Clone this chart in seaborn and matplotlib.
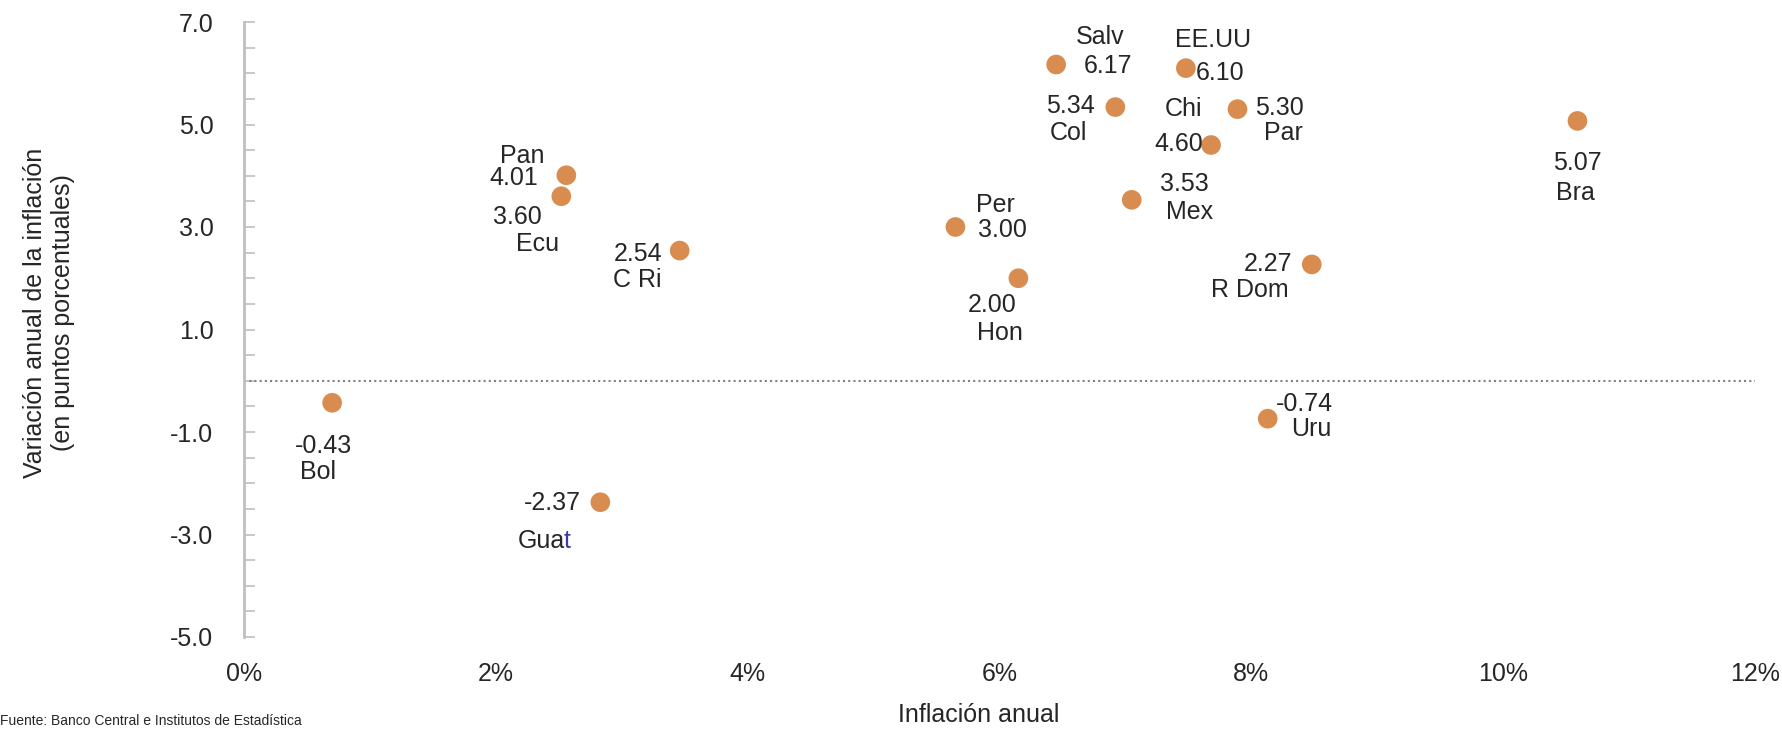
import numpy as np
import pandas as pd
import matplotlib
matplotlib.use('Agg')
import matplotlib.pyplot as plt
import seaborn as sns
from matplotlib.ticker import FixedLocator, MultipleLocator, FuncFormatter

# data
paises = ['Bol', 'Guat', 'Pan', 'Ecu', 'C Ri', 'Per', 'Hon', 'Salv', 'Col',
          'Mex', 'EE.UU', 'Chi', 'Par', 'R Dom', 'Uru', 'Bra']
inflacion = [0.70, 2.83, 2.56, 2.52, 3.46, 5.65, 6.15, 6.45, 6.92,
             7.05, 7.48, 7.68, 7.89, 8.48, 8.13, 10.59]
variacion = [-0.43, -2.37, 4.01, 3.60, 2.54, 3.00, 2.00, 6.17, 5.34,
             3.53, 6.10, 4.60, 5.30, 2.27, -0.74, 5.07]
yticks = [-5, -3, -1, 1, 3, 5, 7]
xticks = [0, 2, 4, 6, 8, 10, 12]

# label offsets in pixels (value label, name label), relative to each point
off_valor = [(-9, -43), (-48, -1), (-53, -3), (-44, -21), (-42, -3), (47, -3), (-26, -27),
             (52, -1), (-45, 1), (53, 16), (34, -5), (-32, 1), (42, 1), (-44, 0), (37, 15), (0, -42)]
off_nombre = [(-14, -69), (-43, -39), (-44, 19), (-24, -48), (-42, -29), (40, 22), (-18, -55),
              (44, 28), (-47, -26), (58, -12), (27, 28), (-28, 36), (46, -24), (-62, -26), (44, -10), (-2, -72)]

df = pd.DataFrame({'pais': paises, 'inflacion': inflacion, 'variacion': variacion})

sns.set_style('white')
plt.rcParams['font.family'] = ['Liberation Sans Narrow', 'Liberation Sans', 'DejaVu Sans']
fs = 18

fig = plt.figure(figsize=(17.83, 7.29), dpi=100)
ax = fig.add_axes([244 / 1783, 1 - 637 / 729, (1755 - 244) / 1783, (637 - 22) / 729])

sns.scatterplot(data=df, x='inflacion', y='variacion', ax=ax, s=200,
                color='#D98C4F', edgecolor='none', legend=False, zorder=3)

ax.axhline(0, color='#808080', lw=1.5, ls=(0, (1, 1.5)), zorder=1)

for i, p in enumerate(paises):
    x, y = inflacion[i], variacion[i]
    ax.annotate(f'{y:.2f}', (x, y), xytext=off_valor[i], textcoords='offset pixels',
                ha='center', va='center', fontsize=fs)
    if p == 'Guat':
        # last letter drawn in blue, as in the original
        ax.annotate('Gua', (x, y), xytext=(off_nombre[i][0] + 8, off_nombre[i][1]),
                    textcoords='offset pixels', ha='right', va='center', fontsize=fs)
        ax.annotate('t', (x, y), xytext=(off_nombre[i][0] + 6, off_nombre[i][1]),
                    textcoords='offset pixels', ha='left', va='center', fontsize=fs,
                    color='#3A3AA8')
    else:
        ax.annotate(p, (x, y), xytext=off_nombre[i], textcoords='offset pixels',
                    ha='center', va='center', fontsize=fs)

ax.set_xlim(0, 12)
ax.set_ylim(-5, 7)
ax.xaxis.set_major_locator(FixedLocator(xticks))
ax.xaxis.set_major_formatter(FuncFormatter(lambda v, _: f'{v:.0f}%'))
ax.yaxis.set_major_locator(FixedLocator(yticks))
ax.yaxis.set_minor_locator(MultipleLocator(0.5))
ax.yaxis.set_major_formatter(FuncFormatter(lambda v, _: f'{v:.1f}'))

for s in ['top', 'right', 'bottom']:
    ax.spines[s].set_visible(False)
ax.spines['left'].set_color('#BFBFBF')
ax.spines['left'].set_linewidth(2)

ax.tick_params(axis='y', which='both', left=True, direction='in', length=8, width=1.2,
               color='#BFBFBF', labelsize=fs)
ax.tick_params(axis='y', which='major', pad=22)
ax.tick_params(axis='x', length=0, labelsize=fs, pad=18)

ax.set_xlabel('Inflación anual', fontsize=fs)
ax.set_ylabel('Variación anual de la inflación\n(en puntos porcentuales)', fontsize=fs)
ax.xaxis.set_label_coords(0.486, -0.108)
ax.yaxis.set_label_coords(-0.112, 0.527)

fig.text(0.0, 0.002, 'Fuente: Banco Central e Institutos de Estadística',
         fontsize=10, ha='left', va='bottom')

fig.savefig('out.png', dpi=100)
